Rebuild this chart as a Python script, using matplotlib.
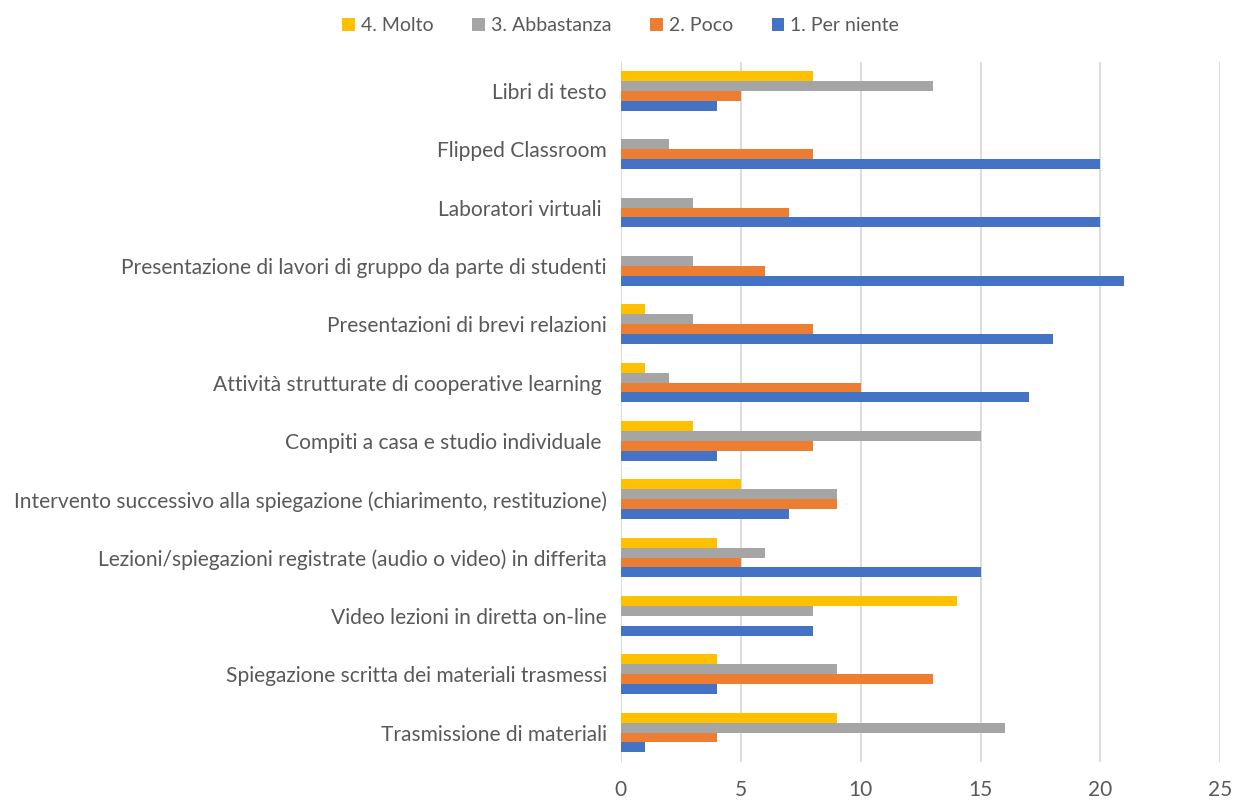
import numpy as np
import matplotlib.pyplot as plt

plt.rcParams['font.family'] = ['Lato', 'DejaVu Sans']

categories = [
    "Libri di testo",
    "Flipped Classroom",
    "Laboratori virtuali ",
    "Presentazione di lavori di gruppo da parte di studenti",
    "Presentazioni di brevi relazioni",
    "Attività strutturate di cooperative learning ",
    "Compiti a casa e studio individuale ",
    "Intervento successivo alla spiegazione (chiarimento, restituzione)",
    "Lezioni/spiegazioni registrate (audio o video) in differita",
    "Video lezioni in diretta on-line",
    "Spiegazione scritta dei materiali trasmessi",
    "Trasmissione di materiali",
]

molto = [8, 0, 0, 0, 1, 1, 3, 5, 4, 14, 4, 9]
abbastanza = [13, 2, 3, 3, 3, 2, 15, 9, 6, 8, 9, 16]
poco = [5, 8, 7, 6, 8, 10, 8, 9, 5, 0, 13, 4]
per_niente = [4, 20, 20, 21, 18, 17, 4, 7, 15, 8, 4, 1]

series = [
    ("4. Molto", molto, "#FFC000"),
    ("3. Abbastanza", abbastanza, "#A5A5A5"),
    ("2. Poco", poco, "#ED7D31"),
    ("1. Per niente", per_niente, "#4472C4"),
]

fig = plt.figure(figsize=(12.34, 8.01), dpi=100)
ax = fig.add_axes([0.503, 0.049, 0.486, 0.874])

y = np.arange(len(categories))
h = 0.17
for i, (name, vals, col) in enumerate(series):
    ax.barh(y + (i - 1.5) * h, vals, height=h, color=col, label=name, zorder=3)

ax.set_ylim(len(categories) - 0.5, -0.5)
ax.set_xlim(0, 25)
ax.set_xticks(range(0, 26, 5))
ax.set_yticks(y)
ax.set_yticklabels(categories)
ax.tick_params(axis='y', length=0, pad=10, labelsize=15.1, labelcolor="#595959")
ax.tick_params(axis='x', length=0, pad=13, labelsize=15, labelcolor="#595959")
ax.grid(axis='x', color="#D9D9D9", linewidth=1.3, zorder=0)
for s in ax.spines.values():
    s.set_visible(False)

ax.legend(loc='center', bbox_to_anchor=(0.503, 0.968), bbox_transform=fig.transFigure,
          ncol=4, frameon=False, handlelength=0.65, handleheight=0.65,
          handletextpad=0.3, columnspacing=2.0, fontsize=14,
          labelcolor="#595959")

fig.savefig("out.png", dpi=100)
